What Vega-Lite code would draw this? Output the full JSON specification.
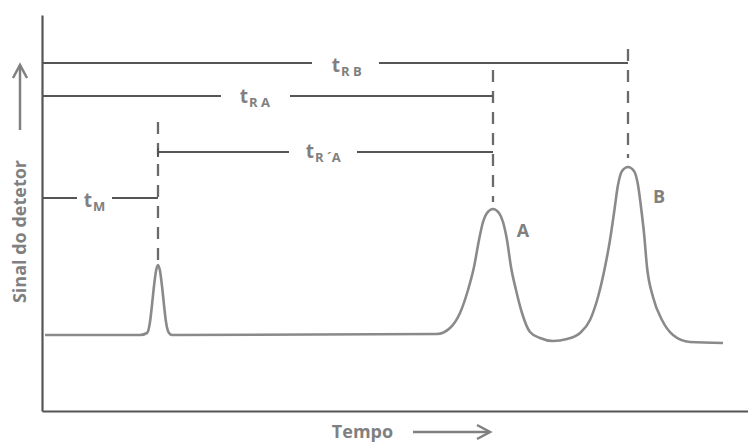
{
  "$schema": "https://vega.github.io/schema/vega-lite/v6.json",
  "width": 706,
  "height": 396,
  "autosize": {"type": "none"},
  "padding": {"left": 42, "top": 15, "right": 0, "bottom": 31},
  "background": "white",
  "config": {"view": {"stroke": null}, "font": "Open Sans"},
  "datasets": {
    "curve": [
      {"t": 3, "s": 76}, {"t": 98, "s": 76}, {"t": 105, "s": 78}, {"t": 108, "s": 89}, {"t": 110, "s": 106},
      {"t": 112, "s": 125}, {"t": 114, "s": 140}, {"t": 116, "s": 146}, {"t": 118, "s": 140}, {"t": 120, "s": 125},
      {"t": 122, "s": 106}, {"t": 124, "s": 89}, {"t": 127, "s": 78}, {"t": 130, "s": 76}, {"t": 395, "s": 77},
      {"t": 408, "s": 83}, {"t": 418, "s": 98}, {"t": 426, "s": 121}, {"t": 432, "s": 144}, {"t": 437, "s": 171},
      {"t": 441, "s": 189}, {"t": 445, "s": 198}, {"t": 451, "s": 202}, {"t": 457, "s": 198}, {"t": 461, "s": 189},
      {"t": 465, "s": 171}, {"t": 469, "s": 144}, {"t": 474, "s": 121}, {"t": 480, "s": 98}, {"t": 488, "s": 79},
      {"t": 498, "s": 73}, {"t": 511, "s": 70}, {"t": 525, "s": 72}, {"t": 538, "s": 78}, {"t": 548, "s": 91},
      {"t": 556, "s": 114}, {"t": 563, "s": 144}, {"t": 568, "s": 171}, {"t": 572, "s": 198}, {"t": 576, "s": 226},
      {"t": 580, "s": 240}, {"t": 586, "s": 244}, {"t": 592, "s": 240}, {"t": 596, "s": 226}, {"t": 599, "s": 204},
      {"t": 602, "s": 178}, {"t": 605, "s": 144}, {"t": 611, "s": 114}, {"t": 620, "s": 91}, {"t": 631, "s": 76},
      {"t": 648, "s": 69}, {"t": 681, "s": 68}
    ],
    "dashed": [
      {"t": 116, "s1": 148, "s2": 289},
      {"t": 451, "s1": 209, "s2": 341},
      {"t": 586, "s1": 253, "s2": 362}
    ],
    "segments": [
      {"t1": 0, "t2": 270, "s": 348}, {"t1": 337, "t2": 586, "s": 348},
      {"t1": 0, "t2": 179, "s": 315}, {"t1": 248, "t2": 451, "s": 315},
      {"t1": 116, "t2": 247, "s": 259}, {"t1": 315, "t2": 451, "s": 259},
      {"t1": 0, "t2": 35, "s": 213}, {"t1": 70, "t2": 116, "s": 213}
    ],
    "ticks": [
      {"t": 116, "s1": 254, "s2": 263}
    ],
    "labels": [
      {"t": 298, "s": 339, "sub": "R B"},
      {"t": 206, "s": 308, "sub": "R A"},
      {"t": 272, "s": 253, "sub": "R ´A"},
      {"t": 50, "s": 204, "sub": "M"}
    ],
    "peaks": [
      {"t": 481, "s": 174, "name": "A"},
      {"t": 617, "s": 208, "name": "B"}
    ],
    "arrows": [
      {"arrow": "up", "part": "shaft", "k": 1, "t": -22, "s": 281},
      {"arrow": "up", "part": "shaft", "k": 2, "t": -22, "s": 346},
      {"arrow": "up", "part": "head", "k": 1, "t": -29, "s": 333},
      {"arrow": "up", "part": "head", "k": 2, "t": -22, "s": 346},
      {"arrow": "up", "part": "head", "k": 3, "t": -15, "s": 333},
      {"arrow": "right", "part": "shaft", "k": 1, "t": 371, "s": -21},
      {"arrow": "right", "part": "shaft", "k": 2, "t": 448, "s": -21},
      {"arrow": "right", "part": "head", "k": 1, "t": 435, "s": -14},
      {"arrow": "right", "part": "head", "k": 2, "t": 448, "s": -21},
      {"arrow": "right", "part": "head", "k": 3, "t": 435, "s": -28}
    ]
  },
  "layer": [
    {
      "data": {"name": "curve"},
      "mark": {"type": "line", "interpolate": "monotone", "color": "#8a8a8a", "strokeWidth": 2.6},
      "encoding": {
        "x": {"field": "t", "type": "quantitative", "scale": {"domain": [0, 706], "nice": false, "zero": false},
          "axis": {"title": "Tempo", "grid": false, "ticks": false, "labels": false, "domainColor": "#555", "domainWidth": 2.2,
            "titleFont": "Open Sans", "titleFontSize": 18, "titleFontWeight": "bold", "titleColor": "#808080",
            "titleX": 320, "titleY": 26, "titleBaseline": "alphabetic", "titleAlign": "center"}},
        "y": {"field": "s", "type": "quantitative", "scale": {"domain": [0, 396], "nice": false, "zero": false},
          "axis": {"title": "Sinal do detetor", "grid": false, "ticks": false, "labels": false, "domainColor": "#555", "domainWidth": 2.2,
            "titleFont": "Open Sans", "titleFontSize": 18, "titleFontWeight": "bold", "titleColor": "#808080",
            "titleX": -22, "titleY": 216, "titleAngle": -90, "titleBaseline": "middle", "titleAlign": "center"}}
      }
    },
    {
      "data": {"name": "dashed"},
      "mark": {"type": "rule", "color": "#6a6a6a", "strokeWidth": 2.3, "strokeDash": [12, 9]},
      "encoding": {
        "x": {"field": "t", "type": "quantitative"},
        "y": {"field": "s2", "type": "quantitative"},
        "y2": {"field": "s1"}
      }
    },
    {
      "data": {"name": "ticks"},
      "mark": {"type": "rule", "color": "#555", "strokeWidth": 2},
      "encoding": {
        "x": {"field": "t", "type": "quantitative"},
        "y": {"field": "s1", "type": "quantitative"},
        "y2": {"field": "s2"}
      }
    },
    {
      "data": {"name": "segments"},
      "mark": {"type": "rule", "color": "#555", "strokeWidth": 2},
      "encoding": {
        "x": {"field": "t1", "type": "quantitative"},
        "x2": {"field": "t2"},
        "y": {"field": "s", "type": "quantitative"}
      }
    },
    {
      "data": {"name": "labels"},
      "mark": {"type": "text", "text": "t", "align": "right", "baseline": "alphabetic", "font": "Open Sans", "fontWeight": "bold", "fontSize": 19, "color": "#808080"},
      "encoding": {
        "x": {"field": "t", "type": "quantitative"},
        "y": {"field": "s", "type": "quantitative"}
      }
    },
    {
      "data": {"name": "labels"},
      "mark": {"type": "text", "align": "left", "baseline": "alphabetic", "dx": 1, "dy": 4, "font": "Open Sans", "fontWeight": "bold", "fontSize": 13, "color": "#808080"},
      "encoding": {
        "x": {"field": "t", "type": "quantitative"},
        "y": {"field": "s", "type": "quantitative"},
        "text": {"field": "sub"}
      }
    },
    {
      "data": {"name": "peaks"},
      "mark": {"type": "text", "align": "center", "baseline": "alphabetic", "font": "Open Sans", "fontWeight": "bold", "fontSize": 18, "color": "#808080"},
      "encoding": {
        "x": {"field": "t", "type": "quantitative"},
        "y": {"field": "s", "type": "quantitative"},
        "text": {"field": "name"}
      }
    },
    {
      "data": {"name": "arrows"},
      "mark": {"type": "line", "color": "#808080", "strokeWidth": 2.5, "clip": false},
      "encoding": {
        "x": {"field": "t", "type": "quantitative"},
        "y": {"field": "s", "type": "quantitative"},
        "detail": [{"field": "arrow"}, {"field": "part"}],
        "order": {"field": "k", "type": "quantitative"}
      }
    }
  ]
}
